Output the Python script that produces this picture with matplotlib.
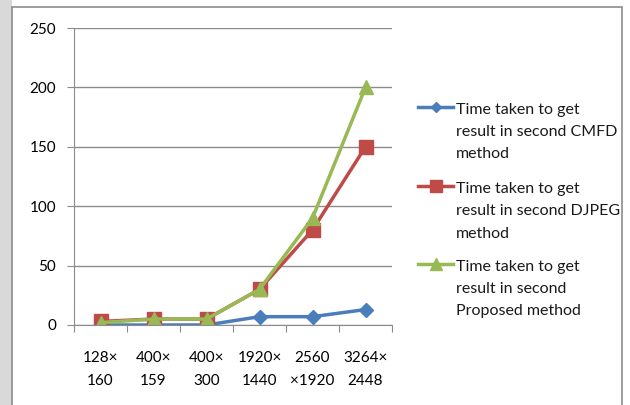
import numpy as np
import matplotlib
matplotlib.use('Agg')
import matplotlib.pyplot as plt
from matplotlib.patches import Rectangle
from matplotlib.lines import Line2D

plt.rcParams['font.family'] = ['Lato', 'DejaVu Sans']

# image sizes
categories = ['128\u00d7\n160', '400\u00d7\n159', '400\u00d7\n300', '1920\u00d7\n1440', '2560\n\u00d71920', '3264\u00d7\n2448']
cmfd = [0, 0, 0, 7, 7, 13]
djpeg = [3, 5, 5, 30, 80, 150]
proposed = [2, 5, 5, 30, 90, 200]
labels = ['Time taken to get\nresult in second CMFD\nmethod',
          'Time taken to get\nresult in second DJPEG\nmethod',
          'Time taken to get\nresult in second\nProposed method']
colors = ['#4A7EBB', '#BE4B48', '#98B954']
markers = ['D', 's', '^']
msizes = [7, 10, 10]

fig = plt.figure(figsize=(6.3, 4.05), dpi=100)

# grey frame round the chart, with a shaded strip on the left
fig.patches.append(Rectangle((0, 0), 12/630, 1, transform=fig.transFigure,
                             facecolor='#d9d9d9', edgecolor='none', zorder=0))
fig.patches.append(Rectangle((12/630, -0.01), 610/630, (405-7)/405 + 0.01,
                             transform=fig.transFigure, facecolor='white',
                             edgecolor='#8c8c8c', linewidth=1.2, zorder=1))

ax = fig.add_axes([74/630, (405-325)/405, 318/630, 297/405])
ax.set_zorder(2)

x = np.arange(len(categories))
for vals, c, m, ms in zip([cmfd, djpeg, proposed], colors, markers, msizes):
    ax.plot(x, vals, color=c, marker=m, markersize=ms, linewidth=2.5)

ax.set_xlim(-0.5, len(categories) - 0.5)
ax.set_ylim(0, 250)
ax.set_yticks(range(0, 251, 50))
ax.yaxis.grid(True, color='#8c8c8c', linewidth=1)
ax.set_axisbelow(True)

# tick marks between categories, labels at the centres
ax.set_xticks(np.arange(-0.5, len(categories), 1))
ax.set_xticklabels([])
ax.set_xticks(x, minor=True)
ax.set_xticklabels(categories, minor=True, fontsize=11, linespacing=1.75)
ax.tick_params(axis='x', which='minor', length=0, pad=19)
ax.tick_params(axis='x', which='major', length=5, color='#8c8c8c')
ax.tick_params(axis='y', length=5, color='#8c8c8c', labelsize=11, pad=8)

for side in ['top', 'right']:
    ax.spines[side].set_visible(False)
for side in ['left', 'bottom']:
    ax.spines[side].set_color('#8c8c8c')

# legend drawn by hand so the sample sits on the first text line
leg_y = [107, 186, 264]
for y, lab, c, m, ms in zip(leg_y, labels, colors, markers, msizes):
    fy = 1 - y / 405
    fig.add_artist(Line2D([418/630, 453/630], [fy, fy], transform=fig.transFigure,
                          color=c, linewidth=2.5))
    fig.add_artist(Line2D([435.5/630], [fy], transform=fig.transFigure,
                          color=c, marker=m, markersize=ms * 0.8))
    fig.text(456/630, 1 - (y - 4) / 405, lab, fontsize=11.5, va='top', ha='left',
             linespacing=1.75, color='#1a1a1a')

fig.savefig('out.png', dpi=100)
